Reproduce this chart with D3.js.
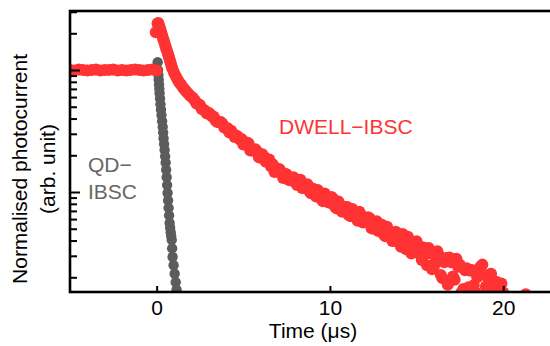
<!DOCTYPE html>
<html>
<head>
<meta charset="utf-8">
<script src="https://cdn.jsdelivr.net/npm/d3@7"></script>
<style>
  html, body { margin: 0; padding: 0; background: #fff; }
  svg { display: block; font-family: "Liberation Sans", Arial, sans-serif; }
</style>
</head>
<body>
<div id="chart"></div>
<script>
// DWELL-IBSC trace (time in µs, normalised photocurrent)
const dwellTime = [
  -5, -4.75, -4.5, -4.25, -4, -3.75, -3.5, -3.25, -3, -2.75, -2.5, -2.25, -2, -1.75, -1.5, -1.25, -1, -0.75, -0.5, -0.25, 0,
  -0.05, 0.05, 0.1, 0.2, 0.3, 0.4, 0.5, 0.6, 0.7, 0.8, 0.9, 1, 1.1, 1.2, 1.3, 1.4, 1.5, 1.6, 1.7, 1.8, 1.9, 2,
  2.2, 2.4, 2.6, 2.8, 3, 3.2, 3.4, 3.6, 3.8, 4, 4.2, 4.4, 4.6, 4.8, 5, 5.2, 5.4, 5.6, 5.8, 6, 6.2, 6.4, 6.6, 6.8,
  7, 7.2, 7.4, 7.6, 7.8, 8, 8.2, 8.4, 8.6, 8.8, 9, 9.2, 9.4, 9.6, 9.8, 10, 10.2, 10.4, 10.6, 10.8, 11, 11.2, 11.4,
  11.6, 11.8, 12, 12.1, 12.2, 12.4, 12.6, 12.8, 12.9, 13, 13.2, 13.4, 13.5, 13.6, 13.8, 14, 14.2, 14.3, 14.4, 14.6,
  14.8, 14.9, 15, 15.2, 15.4, 15.5, 15.6, 15.8, 16, 16.1, 16.2, 16.4, 16.6, 16.7, 16.8, 17, 17.2, 17.3, 17.4, 17.6,
  17.8, 17.9, 18, 18.2, 18.4, 18.5, 18.6, 18.8, 19, 19.1, 19.2, 19.4, 19.6, 19.7, 19.8, 20, 21.3,
  0.15, 0.25, 0.35, 0.45, 0.55, 0.65, 0.75, 0.85,
  2.1, 2.3, 2.5, 2.7, 2.9, 3.1, 3.3, 3.5, 3.7, 3.9, 4.1, 4.3, 4.5, 4.7, 4.9, 5.1, 5.3, 5.5, 5.7, 5.9,
  6.1, 6.3, 6.5, 6.7, 6.9, 7.1, 7.3, 7.5, 7.7, 7.9, 8.1, 8.3, 8.5, 8.7, 8.9, 9.1, 9.3, 9.5, 9.7, 9.9,
  10.1, 10.3, 10.5, 10.7, 10.9, 11.1, 11.3, 11.5, 11.7, 11.9, 12.3, 12.5, 12.7, 13.1, 13.3, 13.7, 13.9,
  14.1, 14.5, 14.7, 15.1, 15.3, 15.7, 15.9, 16.3, 16.5, 16.9, 17.1, 17.5, 17.7, 18.1, 18.3, 18.7, 18.9,
  19.3, 19.5, 19.9
];
const dwellSignal = [
  1.00, 0.99, 1.01, 1.00, 0.99, 1.00, 1.01, 0.99, 1.00, 1.00, 1.01, 0.99, 1.00, 0.99, 1.00, 1.01, 1.00, 0.99, 1.00, 1.01, 0.99,
  2.04, 2.40, 2.43, 2.19, 1.95, 1.76, 1.58, 1.43, 1.29, 1.15, 1.035, 0.955, 0.891, 0.841, 0.794, 0.759, 0.724, 0.697, 0.671, 0.646, 0.624, 0.603,
  0.562, 0.527, 0.479, 0.462, 0.447, 0.415, 0.385, 0.374, 0.363, 0.335, 0.307, 0.301, 0.291, 0.269, 0.245, 0.254, 0.219, 0.219, 0.214, 0.191, 0.195, 0.180, 0.162, 0.146,
  0.155, 0.143, 0.141, 0.126, 0.130, 0.120, 0.125, 0.108, 0.1135, 0.102, 0.107, 0.0920, 0.0989, 0.0841, 0.0912, 0.0818, 0.0875, 0.0733, 0.0780, 0.0700, 0.0755, 0.0634, 0.0684,
  0.0582, 0.0649, 0.0573, 0.0575, 0.0622, 0.0504, 0.0550, 0.0479, 0.0525, 0.0540, 0.0434, 0.0470, 0.0452, 0.0396, 0.0472, 0.0389, 0.0452, 0.0380, 0.0339, 0.0394,
  0.0324, 0.0380, 0.0394, 0.0309, 0.0351, 0.0309, 0.0251, 0.0313, 0.0245, 0.0265, 0.0327, 0.0209, 0.0266, 0.0288, 0.0174, 0.0266, 0.0191, 0.0284, 0.0244, 0.0151,
  0.0228, 0.0237, 0.0166, 0.0229, 0.0151, 0.0200, 0.0232, 0.0254, 0.0168, 0.0200, 0.0211, 0.0143, 0.0184, 0.0151, 0.0160, 0.0150, 0.0145,
  2.29, 2.07, 1.85, 1.67, 1.50, 1.36, 1.22, 1.09,
  0.589, 0.531, 0.516, 0.475, 0.439, 0.431, 0.413, 0.375, 0.374, 0.337, 0.333, 0.318, 0.282, 0.283, 0.272, 0.245, 0.251, 0.219, 0.224, 0.193,
  0.204, 0.177, 0.185, 0.169, 0.147, 0.154, 0.130, 0.140, 0.125, 0.132, 0.114, 0.126, 0.108, 0.116, 0.0975, 0.105, 0.104, 0.0875, 0.0971, 0.0824,
  0.0912, 0.0755, 0.0834, 0.0689, 0.0752, 0.0646, 0.0726, 0.0619, 0.0689, 0.0562, 0.0610, 0.0499, 0.0575, 0.0451, 0.0519, 0.0399, 0.0454,
  0.0356, 0.0429, 0.0314, 0.0365, 0.0277, 0.0348, 0.0233, 0.0300, 0.0196, 0.0290, 0.0203, 0.0253, 0.0160, 0.0226, 0.0172, 0.0245, 0.0145,
  0.0214, 0.0162, 0.0178
];

// QD-IBSC trace
const qdTime = [
  -5, -4.5, -4, -3.5, -3, -2.5, -2, -1.5, -1, -0.5, 0,
  0.06, 0.08, 0.1, 0.12, 0.14, 0.155, 0.17, 0.195, 0.22, 0.25, 0.28, 0.315, 0.35, 0.375, 0.4, 0.43, 0.46, 0.49,
  0.52, 0.55, 0.58, 0.605, 0.63, 0.66, 0.69, 0.72, 0.75, 0.78, 0.81, 0.84, 0.87, 0.895, 0.92, 0.98, 1.04, 1.1, 1.15, 1.2
];
const qdSignal = [
  1.00, 1.00, 1.00, 1.00, 1.00, 1.00, 1.00, 1.00, 1.00, 1.00, 1.00,
  1.16, 1.00, 0.912, 0.832, 0.759, 0.700, 0.646, 0.585, 0.525, 0.473, 0.427, 0.381, 0.341, 0.307, 0.275, 0.247, 0.221, 0.196,
  0.174, 0.152, 0.132, 0.114, 0.0982, 0.0853, 0.0741, 0.0643, 0.0557, 0.0510, 0.0468, 0.0435, 0.0405, 0.0345, 0.0293, 0.0251, 0.0214, 0.0182, 0.0158, 0.0138
];

const xTickValues = [0, 10, 20];
const yMajorTicks = [0.1, 1];
const yMinorTicks = [0.02, 0.03, 0.04, 0.05, 0.06, 0.07, 0.08, 0.09, 0.2, 0.3, 0.4, 0.5, 0.6, 0.7, 0.8, 0.9, 2, 3];

const dwell = dwellTime.map((t, i) => ({ t, v: dwellSignal[i] }));
const qd = qdTime.map((t, i) => ({ t, v: qdSignal[i] }));

const width = 550, height = 346;
const margin = { top: 11, right: 0, bottom: 54, left: 70 };

const svg = d3.select('#chart')
  .append('svg')
  .attr('width', width)
  .attr('height', height)
  .attr('viewBox', [0, 0, width, height]);

const x = d3.scaleLinear()
  .domain([-5, 22.7])
  .range([margin.left, width - margin.right]);

const y = d3.scaleLog()
  .domain([0.01515, 3.045])
  .range([height - margin.bottom, margin.top]);

svg.append('clipPath')
  .attr('id', 'plot-clip')
  .append('rect')
  .attr('x', margin.left)
  .attr('y', margin.top)
  .attr('width', width - margin.left - margin.right)
  .attr('height', height - margin.top - margin.bottom);

const marks = svg.append('g').attr('clip-path', 'url(#plot-clip)');

marks.selectAll('circle.qd')
  .data(qd)
  .join('circle')
  .attr('class', 'qd')
  .attr('cx', d => x(d.t))
  .attr('cy', d => y(d.v))
  .attr('r', 5.2)
  .attr('fill', '#5c5c5c');

marks.selectAll('circle.dwell')
  .data(dwell)
  .join('circle')
  .attr('class', 'dwell')
  .attr('cx', d => x(d.t))
  .attr('cy', d => y(d.v))
  .attr('r', 6)
  .attr('fill', '#ff3333');

// y axis ticks (inward)
const yMajor = svg.append('g')
  .attr('transform', `translate(${margin.left},0)`)
  .call(d3.axisLeft(y).tickValues(yMajorTicks).tickSizeInner(-10).tickSizeOuter(0).tickFormat(''));
const yMinor = svg.append('g')
  .attr('transform', `translate(${margin.left},0)`)
  .call(d3.axisLeft(y).tickValues(yMinorTicks).tickSizeInner(-7).tickSizeOuter(0).tickFormat(''));
[yMajor, yMinor].forEach(g => {
  g.select('.domain').remove();
  g.selectAll('line').attr('stroke', '#000').attr('stroke-width', 2);
});

// x axis
const xAxis = svg.append('g')
  .attr('transform', `translate(0,${height - margin.bottom})`)
  .call(d3.axisBottom(x).tickValues(xTickValues).tickSizeInner(-6).tickSizeOuter(0).tickPadding(8));
xAxis.select('.domain').remove();
xAxis.selectAll('line').attr('stroke', '#000').attr('stroke-width', 2);
xAxis.selectAll('text')
  .attr('fill', '#000')
  .attr('font-size', 21)
  .attr('font-family', '"Liberation Sans", Arial, sans-serif');

// frame
svg.append('rect')
  .attr('x', margin.left)
  .attr('y', margin.top)
  .attr('width', width - margin.left + 5)
  .attr('height', height - margin.top - margin.bottom)
  .attr('fill', 'none')
  .attr('stroke', '#000')
  .attr('stroke-width', 2.6);

// axis titles
svg.append('text')
  .attr('x', 313)
  .attr('y', 338)
  .attr('text-anchor', 'middle')
  .attr('font-size', 21)
  .text('Time (μs)');

const yTitle = svg.append('text')
  .attr('transform', 'translate(0,169) rotate(-90)')
  .attr('text-anchor', 'middle')
  .attr('font-size', 21);
yTitle.append('tspan').attr('x', 0).attr('y', 27).text('Normalised photocurrent');
yTitle.append('tspan').attr('x', 0).attr('y', 55).text('(arb. unit)');

// series labels
svg.append('text')
  .attr('x', 279)
  .attr('y', 134)
  .attr('font-size', 21)
  .attr('fill', '#ff3333')
  .text('DWELL−IBSC');

const qdLabel = svg.append('text')
  .attr('font-size', 21)
  .attr('fill', '#666666');
qdLabel.append('tspan').attr('x', 88).attr('y', 172).text('QD−');
qdLabel.append('tspan').attr('x', 88).attr('y', 199).text('IBSC');
</script>
</body>
</html>
